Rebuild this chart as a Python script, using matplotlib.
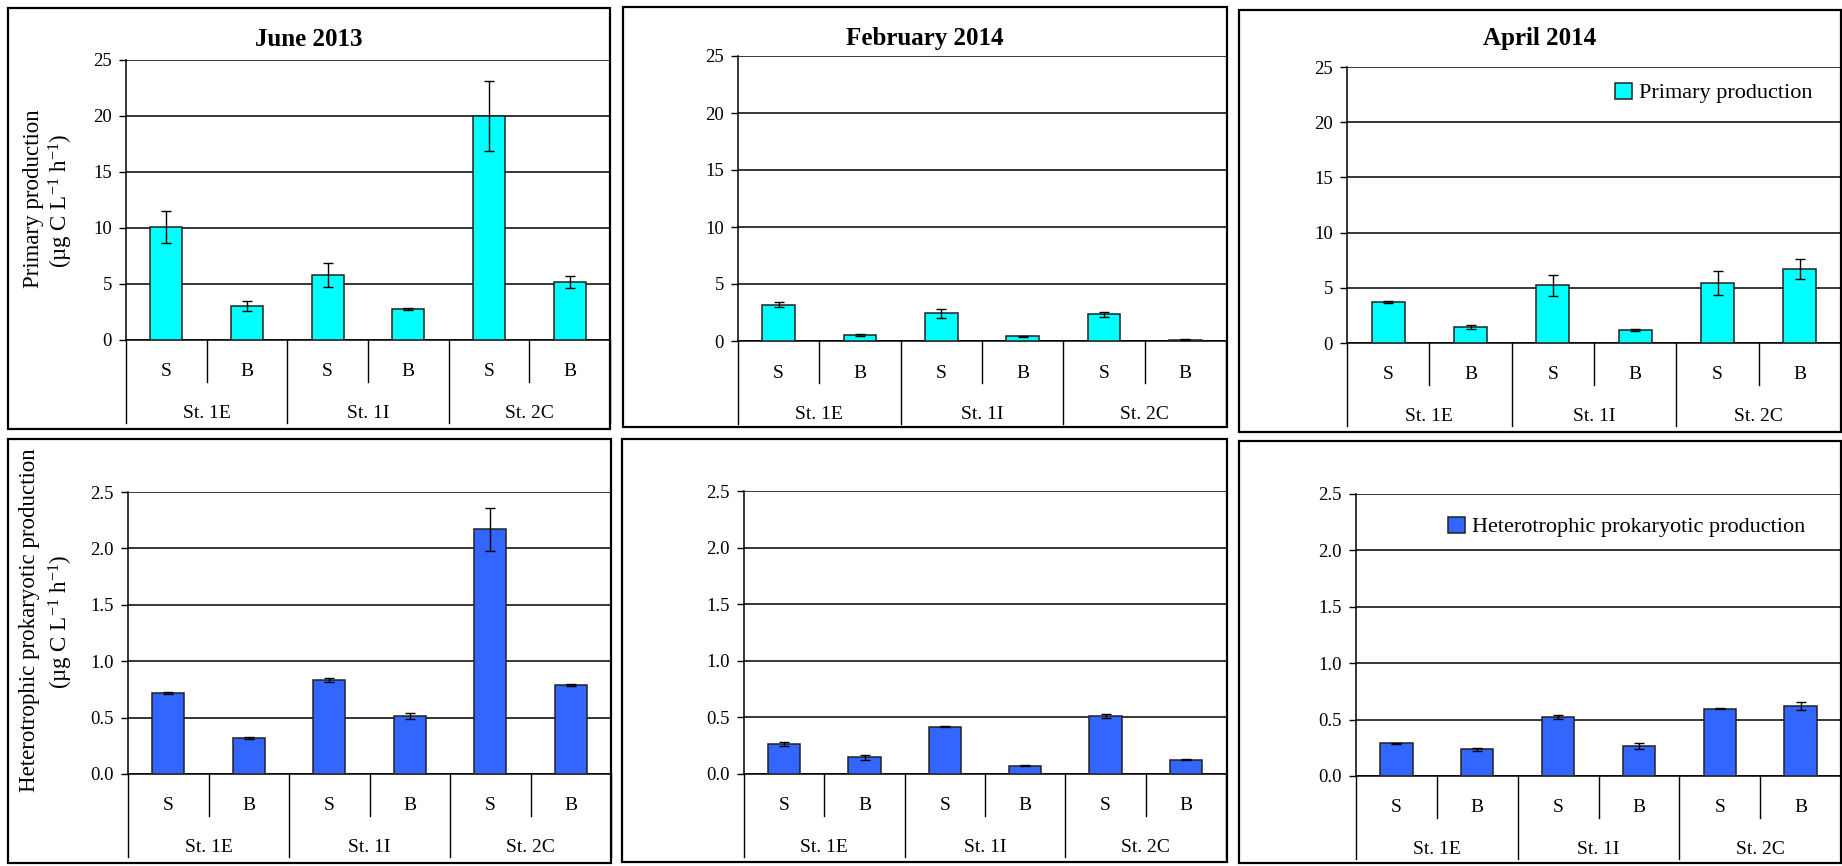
import matplotlib
matplotlib.use("Agg")
import matplotlib.pyplot as plt
import matplotlib.transforms as mtransforms
from matplotlib.patches import Rectangle
from matplotlib.ticker import FormatStrFormatter, MultipleLocator

plt.rcParams['font.family'] = ['Liberation Serif', 'DejaVu Serif']
plt.rcParams['mathtext.fontset'] = 'custom'
plt.rcParams['mathtext.rm'] = 'Liberation Serif'
plt.rcParams['mathtext.it'] = 'Liberation Serif:italic'

W, H = 1842, 866

# categories
depths = ['S', 'B', 'S', 'B', 'S', 'B']
stations = ['St. 1E', 'St. 1I', 'St. 2C']
months = ['June 2013', 'February 2014', 'April 2014']

# primary production (ug C L-1 h-1), mean and error
pp_jun = [10.1, 3.0, 5.8, 2.8, 20.0, 5.2]
pp_jun_err = [1.4, 0.45, 1.07, 0.1, 3.15, 0.55]
pp_feb = [3.2, 0.53, 2.45, 0.41, 2.33, 0.12]
pp_feb_err = [0.2, 0.07, 0.4, 0.03, 0.25, 0.05]
pp_apr = [3.7, 1.45, 5.25, 1.2, 5.45, 6.7]
pp_apr_err = [0.1, 0.15, 0.95, 0.1, 1.1, 0.89]

# heterotrophic prokaryotic production (ug C L-1 h-1)
hpp_jun = [0.717, 0.32, 0.835, 0.515, 2.17, 0.79]
hpp_jun_err = [0.01, 0.006, 0.02, 0.03, 0.19, 0.01]
hpp_feb = [0.266, 0.148, 0.416, 0.074, 0.514, 0.127]
hpp_feb_err = [0.02, 0.02, 0.005, 0.007, 0.015, 0.007]
hpp_apr = [0.289, 0.236, 0.522, 0.268, 0.598, 0.619]
hpp_apr_err = [0.005, 0.01, 0.015, 0.025, 0.008, 0.033]

pp_color = '#00FFFF'
hpp_color = '#3366FF'

# panel geometry in pixels: box (x0, y0, x1, y1), axes (left, top, right, bottom)
panels = [
    dict(box=(8, 8, 610, 429), ax=(126, 60, 610, 340)),
    dict(box=(623, 7, 1227, 427), ax=(738, 56, 1226, 341)),
    dict(box=(1239, 10, 1841, 432), ax=(1347, 67, 1841, 343)),
    dict(box=(8, 439, 611, 863), ax=(128, 492, 611, 774)),
    dict(box=(622, 439, 1227, 862), ax=(744, 491, 1226, 774)),
    dict(box=(1239, 441, 1841, 863), ax=(1356, 494, 1841, 776)),
]

series = [
    (pp_jun, pp_jun_err), (pp_feb, pp_feb_err), (pp_apr, pp_apr_err),
    (hpp_jun, hpp_jun_err), (hpp_feb, hpp_feb_err), (hpp_apr, hpp_apr_err),
]

fig = plt.figure(figsize=(W / 100, H / 100), dpi=100)

axes = []
for i, (p, (vals, errs)) in enumerate(zip(panels, series)):
    top_row = i < 3
    bx0, by0, bx1, by1 = p['box']
    fig.add_artist(Rectangle((bx0 / W, 1 - by1 / H), (bx1 - bx0) / W, (by1 - by0) / H,
                             transform=fig.transFigure, fill=False, ec='black', lw=1.6))

    l, t, r, b = p['ax']
    ax = fig.add_axes([l / W, 1 - b / H, (r - l) / W, (b - t) / H])
    axes.append(ax)

    x = [k + 0.5 for k in range(len(vals))]
    color = pp_color if top_row else hpp_color
    label = 'Primary production' if top_row else 'Heterotrophic prokaryotic production'
    ax.bar(x, vals, width=0.4, color=color, edgecolor='#222222', lw=1.1, zorder=3, label=label)
    ax.errorbar(x, vals, yerr=errs, fmt='none', ecolor='black', elinewidth=1,
                capsize=3.5, capthick=1, zorder=4)

    ax.set_xlim(0, 6)
    if top_row:
        ax.set_ylim(0, 25)
        ax.yaxis.set_major_locator(MultipleLocator(5))
        ax.yaxis.set_major_formatter(FormatStrFormatter('%d'))
    else:
        ax.set_ylim(0, 2.5)
        ax.yaxis.set_major_locator(MultipleLocator(0.5))
        ax.yaxis.set_major_formatter(FormatStrFormatter('%.1f'))

    ax.yaxis.grid(True, color='black', lw=1.1, zorder=0)
    ax.set_axisbelow(True)
    for s in ['top', 'right']:
        ax.spines[s].set_visible(False)
    ax.spines['left'].set_linewidth(1.1)
    ax.spines['bottom'].set_linewidth(1.1)
    ax.set_xticks([])
    ax.tick_params(axis='y', direction='out', length=5, width=1, pad=5, labelsize=13.5)

    # two-level category axis below the bars
    trans = mtransforms.blended_transform_factory(ax.transData, fig.transFigure)
    yax = 1 - b / H
    for k in range(7):
        long_line = k % 2 == 0
        yend = 1 - (b + (83 if long_line else 42)) / H
        ax.plot([k, k], [yax, yend], transform=trans, color='black', lw=1, clip_on=False)
    for k, d in enumerate(depths):
        ax.text(k + 0.5, 1 - (b + 32) / H, d, transform=trans, ha='center', va='center', fontsize=14)
    for k, st in enumerate(stations):
        ax.text(2 * k + 1, 1 - (b + 73.5) / H, st, transform=trans, ha='center', va='center', fontsize=14)

    if top_row:
        fig.text((bx0 + bx1) / 2 / W, 1 - 39 / H, months[i], ha='center', va='center',
                 fontsize=18, fontweight='bold')

# y-axis titles
fig.text(33 / W, 1 - 199 / H, 'Primary production', rotation=90, ha='center', va='center', fontsize=16.5)
fig.text(61 / W, 1 - 201 / H, '(µg C L$^{-1}$ h$^{-1}$)', rotation=90, ha='center', va='center', fontsize=16.5)
fig.text(30 / W, 1 - 620 / H, 'Heterotrophic prokaryotic production', rotation=90, ha='center',
         va='center', fontsize=16.5)
fig.text(61 / W, 1 - 622 / H, '(µg C L$^{-1}$ h$^{-1}$)', rotation=90, ha='center', va='center', fontsize=16.5)

# legends
axes[2].legend(loc='center left', bbox_to_anchor=(1615 / W, 1 - 93 / H), bbox_transform=fig.transFigure,
               frameon=False, fontsize=16, handlelength=0.75, handleheight=0.75, handletextpad=0.35,
               borderpad=0, borderaxespad=0)
axes[5].legend(loc='center left', bbox_to_anchor=(1448 / W, 1 - 527 / H), bbox_transform=fig.transFigure,
               frameon=False, fontsize=16, handlelength=0.75, handleheight=0.75, handletextpad=0.35,
               borderpad=0, borderaxespad=0)

fig.savefig('out.png', dpi=100)
